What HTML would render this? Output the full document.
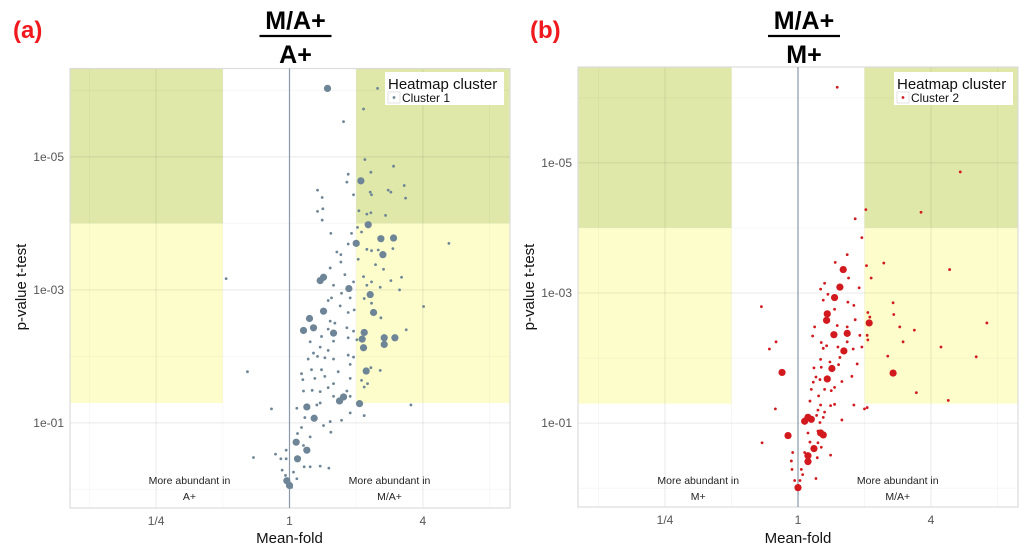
<!DOCTYPE html>
<html><head><meta charset="utf-8"><style>
html,body{margin:0;padding:0;background:#fff;width:1024px;height:551px;overflow:hidden}
svg{display:block;font-family:"Liberation Sans",sans-serif}
</style></head><body>
<svg id="chart" width="1024" height="551" viewBox="0 0 1024 551" xmlns="http://www.w3.org/2000/svg"></svg>
<script>
// Panel (a) data: log2 mean-fold and -log10(p)
const aLargeFold=[0.57,1.07,1.18,1.0,1.37,1.56,1.40,0.51,0.46,0.89,1.21,0.51,1.26,0.30,0.21,0.36,0.66,1.12,1.09,1.42,1.58,1.42,1.11,1.15,0.81,0.75,1.05,0.26,0.37,0.10,0.26,0.12,-0.04,0.0];
const aLargeP=[6.03,4.64,3.98,3.70,3.77,3.78,3.53,3.19,3.14,3.02,2.93,2.68,2.66,2.57,2.39,2.43,2.35,2.36,2.26,2.28,2.28,2.18,2.13,1.78,1.39,1.33,1.29,1.24,1.07,0.71,0.59,0.46,0.13,0.06];
const aSmallFold=[1.32,1.11,0.81,1.13,1.56,0.88,1.22,0.86,1.72,0.96,1.21,1.23,1.48,1.52,1.74,0.42,0.49,0.42,0.50,0.49,1.04,1.16,1.22,1.44,1.02,0.62,0.93,1.08,0.88,1.16,1.23,1.33,1.55,2.39,0.71,0.77,1.03,0.61,0.77,1.29,1.41,0.83,1.11,0.96,1.16,1.23,1.52,1.68,1.36,1.65,0.66,0.78,0.91,1.12,1.23,0.58,0.63,0.76,2.01,0.97,0.88,1.37,0.61,0.68,0.86,0.96,1.75,0.58,0.48,0.88,1.01,0.31,0.66,0.46,0.58,0.88,0.96,0.36,0.42,0.66,0.53,0.91,1.22,1.36,0.28,0.33,0.48,0.73,0.18,0.20,0.38,0.53,0.91,1.08,1.12,1.17,0.66,0.58,0.46,0.21,0.34,0.86,0.66,0.91,0.46,1.82,1.12,0.91,0.78,0.61,0.51,0.62,0.41,0.11,0.23,0.18,0.31,0.12,0.21,-0.05,-0.21,-0.13,-0.05,0.22,0.31,0.46,0.59,-0.11,0.06,0.11,-0.54,-0.63,-0.95,-0.27,-0.06,0.03];
const aSmallP=[6.03,5.72,5.53,4.96,4.86,4.74,4.77,4.62,4.57,4.43,4.47,4.43,4.50,4.47,4.38,4.50,4.39,4.18,4.22,4.05,4.19,4.14,4.16,4.12,3.94,3.85,3.85,3.87,3.69,3.61,3.59,3.60,3.62,3.70,3.57,3.53,3.46,3.33,3.42,3.38,3.31,3.23,3.20,3.12,3.07,3.12,3.14,3.19,3.04,3.00,3.07,2.95,2.88,2.87,2.80,2.84,2.88,2.76,2.75,2.70,2.66,2.58,2.53,2.50,2.43,2.38,2.40,2.41,2.30,2.28,2.25,2.22,2.23,2.14,2.09,2.02,1.99,2.05,2.00,1.96,1.98,1.88,1.83,1.79,1.96,1.80,1.80,1.77,1.74,1.65,1.67,1.70,1.67,1.64,1.54,1.59,1.59,1.53,1.47,1.48,1.49,1.48,1.40,1.40,1.30,1.27,1.11,1.15,1.04,1.02,0.96,0.86,1.27,1.22,1.08,0.93,0.79,0.84,0.66,0.59,0.53,0.46,0.46,0.34,0.34,0.35,0.32,0.29,0.26,0.16,0.48,1.77,3.17,1.21,0.21,0.03];
// Panel (b) data
const bLargeFold=[0.68,0.63,0.55,0.44,0.43,0.74,0.54,1.07,0.69,0.51,0.44,1.43,-0.24,0.15,0.10,0.20,0.38,0.34,-0.15,0.24,0.15,0.15,0.0];
const bLargeP=[3.36,3.09,2.93,2.68,2.58,2.38,2.36,2.54,2.11,1.84,1.68,1.77,1.78,1.09,1.03,1.06,0.82,0.85,0.81,0.61,0.50,0.41,0.01];
const bSmallFold=[0.59,2.44,1.85,1.02,0.86,0.96,0.74,0.56,1.03,1.29,2.28,1.10,0.76,0.40,0.34,0.92,0.45,0.38,0.75,1.43,0.84,-0.55,0.55,1.05,1.44,1.08,0.86,0.59,2.84,1.53,0.25,1.75,0.74,0.93,1.04,0.22,1.05,1.58,-0.33,0.35,0.74,0.43,0.60,0.96,-0.43,2.15,0.83,0.38,2.68,1.35,0.63,0.34,0.48,0.89,0.61,0.24,0.35,0.27,0.81,0.66,0.23,0.33,0.55,0.20,0.40,0.50,0.31,1.78,2.26,0.18,0.34,0.49,0.55,0.84,1.04,1.00,-0.34,0.30,0.40,0.28,0.38,0.66,0.33,0.30,0.15,0.18,0.30,0.35,0.10,0.29,0.49,-0.54,-0.08,-0.10,-0.09,0.05,0.07,0.27,-0.05,0.03];
const bSmallP=[6.16,4.86,4.24,4.28,4.14,3.85,3.59,3.47,3.42,3.46,3.36,3.23,3.23,3.15,3.06,3.08,2.98,2.89,2.86,2.85,2.81,2.79,2.75,2.70,2.67,2.63,2.59,2.50,2.54,2.48,2.48,2.43,2.48,2.35,2.35,2.34,2.28,2.25,2.25,2.24,2.25,2.19,2.17,2.17,2.14,2.17,2.14,2.15,2.02,2.03,2.01,1.98,1.94,1.91,1.90,1.85,1.86,1.71,1.72,1.64,1.63,1.67,1.55,1.52,1.52,1.50,1.42,1.47,1.35,1.34,1.28,1.27,1.29,1.28,1.24,1.22,1.22,1.20,1.17,1.12,1.09,1.05,1.01,0.88,0.85,0.71,0.70,0.63,0.55,0.47,0.51,0.70,0.55,0.42,0.29,0.29,0.21,0.15,0.12,0.12];
const xTickVals=[-2,0,2];
const xTickLabels=["1/4","1","4"];
const yTickVals=[5,3,1];
const yTickLabels=["1e-05","1e-03","1e-01"];

const NS="http://www.w3.org/2000/svg";
const svg=document.getElementById('chart');
function mk(tag,attrs,parent){const e=document.createElementNS(NS,tag);for(const k in attrs)e.setAttribute(k,attrs[k]);(parent||svg).appendChild(e);return e;}

function panel(cfg){
  const g=mk('g',{});
  
  
  const X=v=>cfg.ox+v*cfg.kx;
  const Y=v=>cfg.y1p-(v-1)*cfg.ky;
  const x0=cfg.x0,x1=cfg.x1,y0=cfg.y0,y1=cfg.y1;
  // shaded regions
  const regs=[[x0,X(-1),y0,Y(4),'#dfe8a9','left-significant-region'],[x0,X(-1),Y(4),Y(1.3),'#fdfdcc','left-moderate-region'],
    [X(1),x1,y0,Y(4),'#dfe8a9','right-significant-region'],[X(1),x1,Y(4),Y(1.3),'#fdfdcc','right-moderate-region']];
  regs.forEach(r=>{const e=mk('rect',{x:r[0],y:r[2],width:r[1]-r[0],height:r[3]-r[2],fill:r[4]},g);
    
    });
  // gridlines
  [0,2,4,6].forEach(v=>{const yy=Y(v);if(yy>y0&&yy<y1){const l=mk('line',{x1:x0,x2:x1,y1:yy,y2:yy,stroke:'#000','stroke-opacity':0.03,'stroke-width':1},g);
    
    }});
  yTickVals.forEach(v=>{const l=mk('line',{x1:x0,x2:x1,y1:Y(v),y2:Y(v),stroke:'#000','stroke-opacity':0.07,'stroke-width':1.2},g);
    
    });
  [-3,-1,1,3].forEach(v=>{const xx=X(v);if(xx>x0&&xx<x1){const l=mk('line',{x1:xx,x2:xx,y1:y0,y2:y1,stroke:'#000','stroke-opacity':0.03},g);
    
    }});
  xTickVals.forEach(v=>{if(v!==0){const l=mk('line',{x1:X(v),x2:X(v),y1:y0,y2:y1,stroke:'#000','stroke-opacity':0.07,'stroke-width':1.2},g);
    
    }});
  const border=mk('rect',{x:x0,y:y0,width:x1-x0,height:y1-y0,fill:'none',stroke:'#dcdcdc','stroke-width':1.2},g);
  
  
  const vl=mk('line',{x1:X(0),x2:X(0),y1:y0,y2:y1,stroke:'#8a9aaa','stroke-width':1.2},g);
  
  
  // points
  cfg.sf.forEach((f,i)=>{const c=mk('circle',{cx:X(f),cy:Y(cfg.sp[i]),r:1.4,fill:cfg.color},g);
    
    });
  cfg.lf.forEach((f,i)=>{const c=mk('circle',{cx:X(f),cy:Y(cfg.lp[i]),r:3.6,fill:cfg.color},g);
    
    });
  // ticks
  yTickVals.forEach((v,i)=>{const t=mk('text',{x:x0-6,y:Y(v)+4,'text-anchor':'end','font-size':12,fill:'#555'},g);t.textContent=yTickLabels[i];
    
    });
  xTickVals.forEach((v,i)=>{const t=mk('text',{x:X(v),y:y1+17,'text-anchor':'middle','font-size':12,fill:'#555'},g);t.textContent=xTickLabels[i];
    
    });
  const xt=mk('text',{x:X(0),y:543,'text-anchor':'middle','font-size':15,fill:'#111'},g);xt.textContent='Mean-fold';
  
  
  const yt=mk('text',{x:0,y:0,'text-anchor':'middle','font-size':15,fill:'#111',transform:`translate(${x0-44},287) rotate(-90)`},g);yt.textContent='p-value t-test';
  
  
  // annotations
  [[X(-1.5),cfg.leftLbl,'left-annotation'],[X(1.5),'M/A+','right-annotation']].forEach(a=>{
    const t1=mk('text',{x:a[0],y:484,'text-anchor':'middle','font-size':10.5,fill:'#222'},g);t1.textContent='More abundant in';
    
    
    const t2=mk('text',{x:a[0],y:500,'text-anchor':'middle','font-size':10.5,fill:'#222'},g);t2.textContent=a[1];
    
    });
  // title fraction
  const tx=X(0)+6;
  const tn=mk('text',{x:tx,y:29,'text-anchor':'middle','font-size':25,'font-weight':'bold',fill:'#000'},g);tn.textContent='M/A+';
  
  
  const tl=mk('line',{x1:tx-36,x2:tx+36,y1:36,y2:36,stroke:'#000','stroke-width':2.2},g);
  
  
  const td=mk('text',{x:tx,y:63,'text-anchor':'middle','font-size':25,'font-weight':'bold',fill:'#000'},g);td.textContent=cfg.denom;
  
  
  const pl=mk('text',{x:cfg.lblX,y:38,'font-size':24,'font-weight':'bold',fill:'#f0191e'},g);pl.textContent=cfg.label;
  
  
  // legend
  const lg=mk('g',{},g);
  
  
  mk('rect',{x:cfg.legX,y:72,width:119,height:33,fill:'#fff'},lg);
  const lt=mk('text',{x:cfg.legX+3,y:89,'font-size':15,fill:'#111'},lg);lt.textContent='Heatmap cluster';
  
  
  mk('rect',{x:cfg.legX+3,y:92,width:12,height:11,fill:'none',stroke:'#ddd','stroke-width':0.8},lg);
  mk('circle',{cx:cfg.legX+9,cy:97.5,r:1.4,fill:cfg.color},lg);
  const le=mk('text',{x:cfg.legX+17,y:102,'font-size':12,fill:'#111'},lg);le.textContent=cfg.cluster;
  
  
}
panel({name:'a',ox:289.5,kx:66.7,x0:70,x1:510,y1p:422.9,ky:66.5,y0:68.5,y1:508,color:'#6d8596',lf:aLargeFold,lp:aLargeP,sf:aSmallFold,sp:aSmallP,leftLbl:'A+',denom:'A+',label:'(a)',lblX:13,legX:385,cluster:'Cluster 1'});
panel({name:'b',ox:798,kx:66.5,x0:578,x1:1018,y1p:423.2,ky:65.1,y0:67,y1:507,color:'#d2191e',lf:bLargeFold,lp:bLargeP,sf:bSmallFold,sp:bSmallP,leftLbl:'M+',denom:'M+',label:'(b)',lblX:530,legX:894,cluster:'Cluster 2'});
</script>
</body></html>
